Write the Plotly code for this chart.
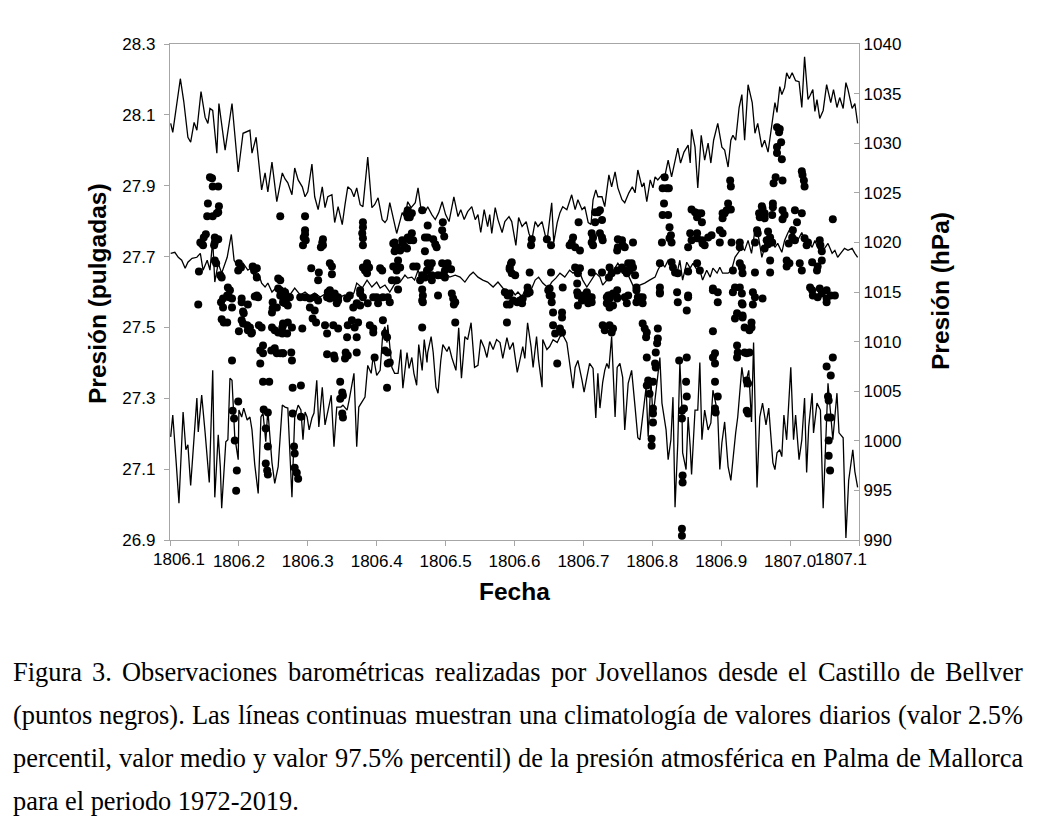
import plotly.graph_objects as go

# Climatología diaria de Palma de Mallorca 1972-2019 (hPa)
# percentil 97.5
fecha_p975 = [
    1806.101, 1806.104, 1806.115, 1806.120, 1806.126, 1806.130, 1806.135, 1806.139, 1806.145, 1806.151,
    1806.155, 1806.158, 1806.162, 1806.168, 1806.171, 1806.180, 1806.190, 1806.199, 1806.206, 1806.216,
    1806.219, 1806.225, 1806.233, 1806.238, 1806.242, 1806.248, 1806.255, 1806.263, 1806.267,
    1806.271, 1806.277, 1806.281, 1806.286, 1806.292, 1806.296, 1806.300, 1806.306, 1806.310, 1806.315,
    1806.321, 1806.325, 1806.329, 1806.335, 1806.339, 1806.344, 1806.350, 1806.354, 1806.358, 1806.363,
    1806.367, 1806.371, 1806.376, 1806.380, 1806.387, 1806.393, 1806.397, 1806.402, 1806.408, 1806.412,
    1806.415, 1806.419, 1806.424, 1806.429,
    1806.437, 1806.441, 1806.445, 1806.450, 1806.456, 1806.460, 1806.464, 1806.470, 1806.474, 1806.480,
    1806.485, 1806.490, 1806.495, 1806.500, 1806.505, 1806.512, 1806.518, 1806.522, 1806.527, 1806.532,
    1806.538, 1806.543, 1806.547, 1806.551, 1806.556, 1806.561, 1806.564, 1806.567, 1806.572, 1806.576,
    1806.582, 1806.586, 1806.592, 1806.596,
    1806.602, 1806.606, 1806.611, 1806.617, 1806.621, 1806.625, 1806.630, 1806.634, 1806.640, 1806.643,
    1806.647, 1806.654, 1806.657, 1806.662, 1806.666, 1806.670, 1806.676, 1806.683, 1806.688, 1806.692,
    1806.698, 1806.702, 1806.707, 1806.711, 1806.714, 1806.718, 1806.721, 1806.727, 1806.731, 1806.737,
    1806.741, 1806.746, 1806.750, 1806.756, 1806.760, 1806.766,
    1806.771, 1806.775, 1806.779, 1806.785, 1806.788, 1806.792, 1806.797, 1806.801, 1806.804, 1806.808,
    1806.814, 1806.818, 1806.823, 1806.828, 1806.833, 1806.837, 1806.841, 1806.846, 1806.852, 1806.855,
    1806.857, 1806.862, 1806.866, 1806.871, 1806.876, 1806.881, 1806.885, 1806.889, 1806.895, 1806.901,
    1806.905, 1806.910, 1806.914, 1806.917, 1806.921, 1806.926, 1806.930, 1806.934, 1806.939, 1806.945,
    1806.949, 1806.953, 1806.959, 1806.963, 1806.968, 1806.974, 1806.978, 1806.981, 1806.985, 1806.988,
    1806.992, 1806.995, 1806.999, 1807.003, 1807.008, 1807.013, 1807.017, 1807.021, 1807.026, 1807.029,
    1807.033, 1807.036, 1807.039, 1807.043, 1807.048, 1807.053, 1807.059, 1807.063, 1807.068, 1807.072,
    1807.077, 1807.081, 1807.084, 1807.090, 1807.094, 1807.098,
]
presion_p975 = [
    1032.0, 1031.1, 1036.5, 1034.2, 1030.6, 1030.1, 1032.1, 1031.3, 1035.2, 1032.6,
    1032.0, 1033.5, 1033.3, 1029.0, 1034.0, 1029.3, 1034.0, 1027.1, 1031.0, 1031.3,
    1029.0, 1030.6, 1025.3, 1027.0, 1025.1, 1028.1, 1024.1, 1027.0, 1026.4,
    1026.0, 1024.8, 1027.5, 1026.3, 1025.6, 1024.6, 1025.1, 1027.9, 1024.6, 1023.3,
    1025.6, 1023.5, 1024.6, 1024.8, 1022.0, 1023.6, 1021.8, 1023.8, 1025.6, 1025.3,
    1024.6, 1025.5, 1023.8, 1023.6, 1028.6, 1023.5, 1023.8, 1024.5, 1022.3, 1022.0,
    1022.3, 1024.0, 1022.3, 1020.9,
    1023.0, 1022.5, 1024.1, 1023.5, 1024.0, 1025.5, 1023.5, 1023.0, 1023.6, 1022.8,
    1022.3, 1023.0, 1024.1, 1022.8, 1022.1, 1024.6, 1022.6, 1023.3, 1022.3, 1023.1,
    1023.6, 1022.3, 1022.8, 1021.0, 1023.3, 1021.6, 1022.8, 1020.9, 1023.5, 1022.3,
    1021.0, 1022.1, 1022.6, 1022.1,
    1019.7, 1022.5, 1021.6, 1022.1, 1020.9, 1020.2, 1022.1, 1021.6, 1022.1, 1021.3,
    1020.0, 1024.0, 1020.0, 1022.0, 1023.0, 1023.6, 1023.3, 1024.8, 1023.3, 1024.3,
    1023.3, 1023.6, 1022.0, 1021.8, 1024.3, 1025.3, 1024.6, 1024.6, 1023.6, 1026.8,
    1025.6, 1027.1, 1025.5, 1024.3, 1024.0, 1025.0,
    1025.6, 1025.0, 1027.3, 1025.6, 1026.0, 1024.1, 1026.3, 1025.5, 1026.6, 1026.3,
    1026.8, 1026.6, 1028.3, 1026.6, 1028.3, 1029.5, 1028.0, 1029.1, 1029.8, 1028.0,
    1031.4, 1029.6, 1025.5, 1030.8, 1028.3, 1030.0, 1028.0, 1030.3, 1032.0, 1029.6,
    1029.3, 1027.6, 1030.3, 1030.8, 1030.3, 1033.6, 1034.9, 1030.3, 1035.9, 1034.1,
    1031.0, 1032.0, 1029.6, 1030.3, 1029.1, 1032.3, 1034.1, 1033.1, 1035.7, 1034.9,
    1035.6, 1037.1, 1036.5, 1037.1, 1036.3, 1036.2, 1033.6, 1038.7, 1034.4, 1034.8,
    1035.4, 1033.2, 1034.4, 1032.5, 1033.3, 1035.9, 1034.1, 1035.4, 1033.6, 1034.6,
    1033.5, 1036.1, 1035.4, 1033.5, 1034.0, 1032.0,
]

# valor medio
fecha_media = [
    1806.101, 1806.107, 1806.112, 1806.117, 1806.122, 1806.126, 1806.132, 1806.139, 1806.144, 1806.148,
    1806.154, 1806.158, 1806.162, 1806.165, 1806.170, 1806.175, 1806.183, 1806.189, 1806.193, 1806.199,
    1806.206, 1806.213, 1806.219, 1806.223, 1806.228, 1806.233, 1806.238, 1806.242, 1806.248, 1806.255,
    1806.260, 1806.267, 1806.274, 1806.281, 1806.289, 1806.296, 1806.303, 1806.310, 1806.318, 1806.325,
    1806.332, 1806.339, 1806.347, 1806.354, 1806.361, 1806.367, 1806.371, 1806.379, 1806.386, 1806.393,
    1806.400, 1806.405, 1806.412, 1806.419, 1806.426, 1806.434, 1806.441, 1806.445, 1806.451, 1806.455,
    1806.460, 1806.466, 1806.470, 1806.474, 1806.482, 1806.489, 1806.493, 1806.499, 1806.506, 1806.514,
    1806.521, 1806.528, 1806.535, 1806.540, 1806.547, 1806.554, 1806.561, 1806.569, 1806.576, 1806.583,
    1806.590, 1806.596, 1806.601, 1806.605, 1806.611, 1806.618, 1806.624, 1806.630, 1806.635, 1806.641,
    1806.649, 1806.654, 1806.660, 1806.666, 1806.673, 1806.680, 1806.685, 1806.691, 1806.695, 1806.699,
    1806.705, 1806.711, 1806.718, 1806.724, 1806.728, 1806.734, 1806.738, 1806.744, 1806.750, 1806.757,
    1806.763, 1806.767, 1806.775, 1806.782, 1806.789, 1806.796, 1806.804, 1806.808, 1806.814, 1806.818,
    1806.823, 1806.828, 1806.833, 1806.836, 1806.840, 1806.844, 1806.850, 1806.855, 1806.859, 1806.865,
    1806.869, 1806.873, 1806.879, 1806.884, 1806.888, 1806.894, 1806.898, 1806.902, 1806.910, 1806.915,
    1806.920, 1806.924, 1806.930, 1806.934, 1806.939, 1806.944, 1806.949, 1806.953, 1806.959, 1806.963,
    1806.968, 1806.974, 1806.978, 1806.982, 1806.988, 1806.992, 1806.997, 1807.002, 1807.007, 1807.011,
    1807.017, 1807.021, 1807.026, 1807.032, 1807.036, 1807.040, 1807.046, 1807.050, 1807.055, 1807.061,
    1807.065, 1807.069, 1807.075, 1807.079, 1807.084, 1807.090, 1807.094, 1807.098,
]
presion_media = [
    1018.9, 1019.0, 1018.5, 1018.2, 1017.4, 1018.0, 1018.4, 1018.5, 1018.9, 1017.2,
    1018.2, 1017.2, 1020.2, 1016.0, 1017.9, 1016.9, 1018.5, 1020.8, 1018.2, 1017.5,
    1017.9, 1017.2, 1017.5, 1016.2, 1016.9, 1015.9, 1015.5, 1015.9, 1015.0, 1015.5,
    1015.0, 1015.4, 1014.7, 1015.4, 1014.7, 1015.0, 1014.6, 1014.9, 1014.5, 1014.8,
    1014.6, 1014.9, 1014.5, 1014.7, 1014.5, 1014.9, 1015.9, 1015.4, 1016.2, 1015.5,
    1016.0, 1015.4, 1015.7, 1015.0, 1015.8, 1016.0, 1016.7, 1016.4, 1016.5, 1016.2,
    1017.2, 1016.2, 1016.5, 1016.9, 1016.5, 1016.7, 1016.4, 1017.0, 1016.5, 1016.7,
    1016.5, 1016.0, 1016.7, 1017.0, 1016.5, 1016.2, 1016.0, 1015.5, 1016.0, 1015.4,
    1015.0, 1015.2, 1014.7, 1015.0, 1014.5, 1015.7, 1015.2, 1016.2, 1016.5, 1015.9,
    1015.4, 1016.0, 1016.4, 1016.9, 1016.5, 1017.2, 1016.9, 1017.2, 1016.9, 1016.2,
    1015.5, 1016.2, 1016.9, 1016.5, 1015.7, 1016.2, 1016.9, 1017.2, 1017.9, 1017.2,
    1017.0, 1016.4, 1015.2, 1015.7, 1015.9, 1016.2, 1016.5, 1017.2, 1018.0, 1017.5,
    1018.2, 1018.0, 1017.5, 1016.9, 1018.2, 1016.2, 1018.0, 1017.4, 1017.9, 1017.2,
    1017.2, 1016.2, 1017.2, 1016.5, 1017.4, 1016.9, 1017.5, 1016.9, 1016.9, 1017.2,
    1018.5, 1018.9, 1019.5, 1019.2, 1020.2, 1018.9, 1021.2, 1021.0, 1018.5, 1019.5,
    1021.0, 1020.2, 1019.5, 1019.9, 1019.0, 1020.2, 1021.0, 1021.6, 1020.5, 1020.2,
    1021.0, 1020.2, 1020.2, 1019.5, 1020.2, 1019.5, 1018.9, 1019.4, 1019.9, 1018.9,
    1019.2, 1018.5, 1019.0, 1019.4, 1019.2, 1019.4, 1018.9, 1018.5,
]

# percentil 2.5
fecha_p025 = [
    1806.101, 1806.104, 1806.109, 1806.113, 1806.119, 1806.123, 1806.126, 1806.130, 1806.135, 1806.139,
    1806.141, 1806.146, 1806.151, 1806.157, 1806.162, 1806.165, 1806.170, 1806.173, 1806.175, 1806.181,
    1806.184, 1806.187, 1806.190, 1806.194, 1806.199, 1806.200, 1806.204, 1806.207, 1806.212, 1806.216,
    1806.219, 1806.223, 1806.228, 1806.232, 1806.235, 1806.239, 1806.242, 1806.248, 1806.252, 1806.257,
    1806.263, 1806.267, 1806.271, 1806.277, 1806.281, 1806.286, 1806.290, 1806.293, 1806.296, 1806.299,
    1806.302, 1806.306, 1806.309, 1806.313, 1806.316, 1806.321, 1806.325, 1806.329, 1806.334, 1806.338,
    1806.342, 1806.348, 1806.351, 1806.357, 1806.360, 1806.367, 1806.371, 1806.374, 1806.380, 1806.383,
    1806.387, 1806.392, 1806.395, 1806.400, 1806.405, 1806.409, 1806.412, 1806.415, 1806.416, 1806.422,
    1806.426, 1806.431, 1806.435, 1806.438, 1806.444, 1806.447, 1806.451, 1806.454, 1806.458, 1806.461,
    1806.466, 1806.469, 1806.473, 1806.474, 1806.479, 1806.482, 1806.486, 1806.489, 1806.493, 1806.496,
    1806.502, 1806.505, 1806.509, 1806.515, 1806.519, 1806.523, 1806.528, 1806.532, 1806.537, 1806.542,
    1806.547, 1806.551, 1806.556, 1806.560, 1806.564, 1806.569, 1806.574, 1806.579, 1806.583, 1806.589,
    1806.593, 1806.598, 1806.604, 1806.608, 1806.612, 1806.615, 1806.619, 1806.624, 1806.627, 1806.632,
    1806.635, 1806.640, 1806.641, 1806.647, 1806.651, 1806.656, 1806.662, 1806.666, 1806.670, 1806.676,
    1806.680, 1806.685, 1806.688, 1806.692, 1806.698, 1806.701, 1806.705, 1806.709, 1806.714, 1806.718,
    1806.721, 1806.724, 1806.728, 1806.731, 1806.734, 1806.737, 1806.741, 1806.746, 1806.749, 1806.753,
    1806.757, 1806.760, 1806.765, 1806.770, 1806.775, 1806.779, 1806.782, 1806.786, 1806.791, 1806.794,
    1806.798, 1806.801, 1806.807, 1806.811, 1806.814, 1806.820, 1806.823, 1806.827, 1806.830, 1806.833,
    1806.837, 1806.840, 1806.843, 1806.844, 1806.849, 1806.852, 1806.855, 1806.857, 1806.862, 1806.866,
    1806.869, 1806.872, 1806.876, 1806.881, 1806.885, 1806.888, 1806.892, 1806.895, 1806.898, 1806.901,
    1806.905, 1806.910, 1806.914, 1806.917, 1806.921, 1806.924, 1806.930, 1806.934, 1806.940, 1806.944,
    1806.947, 1806.952, 1806.956, 1806.960, 1806.965, 1806.969, 1806.975, 1806.978, 1806.981, 1806.985,
    1806.988, 1806.991, 1806.995, 1807.001, 1807.005, 1807.008, 1807.013, 1807.017, 1807.021, 1807.024,
    1807.027, 1807.032, 1807.034, 1807.039, 1807.044, 1807.048, 1807.052, 1807.055, 1807.059, 1807.062,
    1807.068, 1807.071, 1807.077, 1807.081, 1807.085, 1807.091, 1807.094, 1807.098,
]
presion_p025 = [
    1000.4, 1002.6, 997.8, 993.7, 1002.9, 999.1, 999.6, 995.5, 1000.4, 1004.3,
    1000.9, 1004.6, 1000.8, 995.8, 1007.1, 994.3, 1000.6, 997.4, 993.2, 999.9,
    1000.1, 1006.3, 1006.1, 1000.4, 998.1, 1003.1, 1002.4, 1003.3, 1002.1, 1002.4,
    1001.1, 997.6, 994.7, 1002.4, 1002.8, 999.9, 1003.1, 997.8, 995.7, 997.4,
    1003.6, 1003.4, 1003.3, 994.3, 1002.4, 1003.6, 1003.1, 1000.1, 1002.9, 1002.4,
    1001.1, 1002.3, 1002.8, 1006.1, 1001.4, 1005.4, 1001.6, 1003.1, 1004.6, 999.4,
    1003.4, 1003.4, 1003.6, 1003.1, 1004.1, 1006.8, 999.4, 1003.4, 1004.1, 1004.4,
    1007.6, 1006.8, 1008.6, 1006.6, 1007.1, 1011.0, 1011.5, 1009.9, 1011.7, 1007.4,
    1006.8, 1006.8, 1009.2, 1005.3, 1008.9, 1007.3, 1008.4, 1006.8, 1005.6, 1009.7,
    1007.1, 1010.2, 1007.9, 1008.9, 1010.5, 1008.9, 1005.4, 1004.8, 1008.1, 1009.7,
    1009.0, 1009.5, 1008.4, 1007.1, 1011.4, 1006.3, 1010.5, 1010.2, 1011.9, 1007.4,
    1007.6, 1010.2, 1009.4, 1008.4, 1010.0, 1009.2, 1010.2, 1009.9, 1008.3, 1010.4,
    1009.2, 1009.9, 1006.9, 1008.1, 1009.5, 1008.3, 1011.9, 1009.5, 1007.4, 1010.5,
    1008.1, 1005.4, 1010.2, 1009.2, 1009.5, 1010.2, 1009.9, 1010.5, 1010.7, 1009.9,
    1007.8, 1005.3, 1007.4, 1008.1, 1006.1, 1004.9, 1006.4, 1007.8, 1007.3, 1002.3,
    1006.8, 1003.3, 1005.9, 1007.1, 1007.8, 1007.3, 1010.5, 1002.4, 1007.4, 1007.8,
    1006.4, 1001.1, 1005.8, 1007.1, 1003.4, 1000.3, 1000.1, 1002.4, 1005.4, 1000.4,
    1006.1, 1002.4, 1005.8, 1008.4, 1003.8, 1001.1, 998.1, 1000.1, 1004.4, 993.3,
    999.8, 1007.9, 1003.3, 998.8, 997.1, 1002.4, 999.4, 996.6, 1003.1, 1003.1,
    1007.9, 1000.1, 1003.1, 1001.1, 1001.8, 1005.1, 1003.8, 1002.6, 997.1, 999.8,
    1001.9, 997.4, 996.0, 998.4, 1000.8, 1002.4, 1007.4, 1005.4, 1007.1, 1001.9,
    1009.9, 995.3, 1002.4, 1003.8, 1001.6, 1003.3, 997.8, 997.1, 998.8, 999.1,
    998.4, 1002.6, 1000.1, 1007.4, 1000.1, 1002.6, 998.1, 1000.1, 1004.3, 996.8,
    1001.4, 1004.8, 1000.8, 1003.8, 1003.1, 993.2, 1000.8, 1005.8, 1002.6, 1000.1,
    1004.8, 1000.8, 1000.3, 990.2, 996.0, 999.1, 996.9, 995.3,
]

# Observaciones barométricas de Jovellanos en Bellver (pulgadas)
obs_fecha = [
    1806.158, 1806.161, 1806.162, 1806.170, 1806.155, 1806.171, 1806.154, 1806.162, 1806.168, 1806.170,
    1806.260, 1806.152, 1806.149, 1806.144, 1806.146, 1806.148, 1806.165, 1806.170, 1806.165, 1806.164,
    1806.165, 1806.167, 1806.142, 1806.173, 1806.175, 1806.200, 1806.203, 1806.199, 1806.220, 1806.226,
    1806.222, 1806.226, 1806.257, 1806.260, 1806.257, 1806.260, 1806.184, 1806.187, 1806.183, 1806.186,
    1806.190, 1806.223, 1806.228, 1806.204,
    1806.177, 1806.141, 1806.174, 1806.177, 1806.190, 1806.175, 1806.178, 1806.183, 1806.204, 1806.213,
    1806.206, 1806.207, 1806.204, 1806.206, 1806.200, 1806.212, 1806.216, 1806.213, 1806.219, 1806.218,
    1806.226, 1806.229, 1806.233, 1806.248, 1806.252, 1806.257, 1806.263, 1806.264, 1806.248, 1806.249,
    1806.255, 1806.260, 1806.264, 1806.249, 1806.235, 1806.231, 1806.235, 1806.231, 1806.247, 1806.252,
    1806.255, 1806.260, 1806.264, 1806.190, 1806.235, 1806.244, 1806.199, 1806.191, 1806.193, 1806.194,
    1806.236, 1806.242, 1806.239, 1806.242, 1806.239, 1806.241, 1806.242, 1806.197, 1806.196,
    1806.296, 1806.296, 1806.296, 1806.294, 1806.297, 1806.293, 1806.322, 1806.321, 1806.322, 1806.319,
    1806.380, 1806.380, 1806.379, 1806.380, 1806.380, 1806.305, 1806.316, 1806.315, 1806.332, 1806.335,
    1806.335, 1806.380, 1806.386, 1806.389, 1806.383, 1806.386, 1806.405, 1806.408, 1806.424, 1806.428,
    1806.426, 1806.431, 1806.424, 1806.429, 1806.422, 1806.429, 1806.267, 1806.329, 1806.339, 1806.344,
    1806.376, 1806.380,
    1806.264, 1806.270, 1806.274, 1806.267, 1806.271, 1806.289, 1806.296, 1806.303, 1806.310, 1806.315,
    1806.303, 1806.310, 1806.328, 1806.332, 1806.339, 1806.344, 1806.342, 1806.332, 1806.307, 1806.312,
    1806.366, 1806.371, 1806.376, 1806.387, 1806.395, 1806.400, 1806.402, 1806.409, 1806.416, 1806.419,
    1806.376, 1806.361, 1806.357, 1806.264, 1806.271, 1806.263, 1806.270, 1806.277, 1806.292, 1806.325,
    1806.337, 1806.344, 1806.328, 1806.358, 1806.364, 1806.373, 1806.368, 1806.357, 1806.371, 1806.390,
    1806.395, 1806.395, 1806.409, 1806.412, 1806.415, 1806.264, 1806.276, 1806.277, 1806.328, 1806.338,
    1806.339, 1806.355, 1806.358, 1806.354, 1806.371, 1806.347, 1806.350, 1806.347, 1806.351, 1806.350,
    1806.351, 1806.278, 1806.290, 1806.278, 1806.290, 1806.280, 1806.281, 1806.281, 1806.284, 1806.286,
    1806.412, 1806.416, 1806.419, 1806.416, 1806.415, 1806.397,
    1806.445, 1806.451, 1806.448, 1806.445, 1806.444, 1806.466, 1806.474, 1806.496, 1806.495, 1806.498,
    1806.426, 1806.429, 1806.434, 1806.437, 1806.438, 1806.441, 1806.444, 1806.445, 1806.451, 1806.448,
    1806.453, 1806.470, 1806.474, 1806.482, 1806.485, 1806.487, 1806.470, 1806.434, 1806.429, 1806.453,
    1806.458, 1806.474, 1806.480, 1806.477, 1806.473, 1806.495, 1806.503, 1806.503, 1806.508, 1806.499,
    1806.466, 1806.470, 1806.480, 1806.489, 1806.495, 1806.499, 1806.463, 1806.480, 1806.595, 1806.593,
    1806.596, 1806.431, 1806.466, 1806.467, 1806.489, 1806.509, 1806.511,
    1806.467, 1806.466, 1806.514, 1806.512, 1806.586, 1806.590, 1806.589, 1806.593, 1806.466, 1806.514,
    1806.589,
    1806.717, 1806.721, 1806.724, 1806.717, 1806.727, 1806.693, 1806.712, 1806.714, 1806.712, 1806.714,
    1806.724, 1806.727, 1806.728, 1806.685, 1806.683, 1806.680, 1806.688, 1806.695, 1806.625, 1806.624,
    1806.647, 1806.653, 1806.750, 1806.756, 1806.750, 1806.757, 1806.749, 1806.596, 1806.593, 1806.601,
    1806.622, 1806.653, 1806.688, 1806.695, 1806.692, 1806.712, 1806.727, 1806.738, 1806.741, 1806.737,
    1806.749, 1806.756, 1806.760, 1806.763, 1806.619, 1806.622, 1806.651, 1806.654, 1806.670, 1806.691,
    1806.691, 1806.698, 1806.702, 1806.712, 1806.736, 1806.738, 1806.749, 1806.749, 1806.765,
    1806.593, 1806.598, 1806.604, 1806.608, 1806.612, 1806.611, 1806.619, 1806.649, 1806.651, 1806.654,
    1806.656, 1806.669, 1806.669, 1806.656, 1806.659, 1806.666, 1806.669, 1806.662, 1806.692, 1806.698,
    1806.692, 1806.705, 1806.709, 1806.707, 1806.712, 1806.734, 1806.738, 1806.743, 1806.734, 1806.738,
    1806.743, 1806.749, 1806.728, 1806.731, 1806.738, 1806.743, 1806.741, 1806.760, 1806.763,
    1806.818, 1806.821, 1806.815, 1806.824, 1806.817, 1806.815, 1806.823, 1806.825, 1806.827, 1806.825,
    1806.828, 1806.814, 1806.913, 1806.914, 1806.910, 1806.908, 1806.914, 1806.902, 1806.905, 1806.902,
    1806.857, 1806.862, 1806.866, 1806.865, 1806.872, 1806.871, 1806.855, 1806.865, 1806.857, 1806.865,
    1806.872, 1806.873, 1806.876, 1806.881, 1806.886, 1806.852, 1806.898, 1806.902, 1806.898, 1806.915,
    1806.772, 1806.760, 1806.927, 1806.927, 1806.765, 1806.770, 1806.772, 1806.767, 1806.811, 1806.828,
    1806.830, 1806.833, 1806.837, 1806.852, 1806.865, 1806.869, 1806.917, 1806.927, 1806.930, 1806.931,
    1806.775, 1806.777, 1806.782, 1806.811, 1806.811, 1806.836, 1806.852, 1806.888, 1806.895, 1806.920,
    1806.777, 1806.779, 1806.782, 1806.786, 1806.786, 1806.777, 1806.811, 1806.837, 1806.852, 1806.850,
    1806.888, 1806.895, 1806.917, 1806.930, 1806.923, 1806.920, 1806.931, 1806.786, 1806.789, 1806.792,
    1806.791, 1806.808, 1806.808, 1806.807, 1806.805, 1806.792, 1806.804, 1806.805, 1806.794, 1806.792,
    1806.801, 1806.796, 1806.801, 1806.801, 1806.801, 1806.799, 1806.799, 1806.839, 1806.850, 1806.849,
    1806.850, 1806.846, 1806.843, 1806.843, 1806.844, 1806.844, 1806.843, 1806.843, 1806.888, 1806.891,
    1806.888, 1806.891, 1806.891, 1806.895, 1806.891, 1806.892, 1806.923, 1806.924, 1806.923,
    1806.981, 1806.985, 1806.984, 1806.987, 1806.981, 1806.981, 1806.988, 1807.017, 1807.018, 1807.020,
    1807.021, 1806.979, 1806.976, 1806.989, 1806.959, 1806.960, 1806.955, 1806.963, 1806.963, 1806.956,
    1806.975, 1806.975, 1806.974, 1806.989, 1806.992, 1806.989, 1807.007, 1807.017, 1807.010, 1807.062,
    1806.952, 1806.953, 1806.949, 1806.968, 1806.971, 1806.966, 1806.974, 1806.968, 1807.004, 1807.003,
    1807.007, 1806.998, 1807.021, 1807.026, 1807.024, 1807.043, 1807.044, 1807.046, 1806.963, 1806.971,
    1806.995, 1806.999, 1806.995, 1807.014, 1807.017, 1807.032, 1807.040, 1807.039, 1807.046, 1806.949,
    1806.971, 1807.029, 1807.032, 1807.033, 1807.040, 1807.043, 1807.046, 1807.053, 1807.053, 1807.059,
    1806.946, 1806.949, 1806.960, 1806.927, 1806.930,
    1806.931, 1806.946, 1807.053, 1807.065, 1806.931, 1806.934, 1806.944, 1806.944, 1806.941, 1806.934,
    1806.937, 1806.941, 1806.937, 1806.939, 1806.937, 1806.939, 1807.062, 1807.053, 1807.059, 1807.055,
    1807.056, 1807.055, 1807.059, 1807.056, 1807.056, 1807.058,
]
obs_pulgadas = [
    27.924, 27.921, 27.898, 27.898, 27.850, 27.842, 27.814, 27.814, 27.822, 27.825,
    27.814, 27.763, 27.754, 27.740, 27.737, 27.732, 27.754, 27.749, 27.740, 27.732,
    27.689, 27.681, 27.658, 27.647, 27.641, 27.681, 27.669, 27.661, 27.672, 27.667,
    27.661, 27.641, 27.638, 27.633, 27.610, 27.605, 27.613, 27.605, 27.590, 27.585,
    27.582, 27.587, 27.585, 27.582,
    27.582, 27.565, 27.571, 27.556, 27.556, 27.523, 27.514, 27.514, 27.571, 27.565,
    27.545, 27.540, 27.520, 27.511, 27.489, 27.506, 27.500, 27.492, 27.486, 27.483,
    27.590, 27.506, 27.500, 27.500, 27.492, 27.486, 27.483, 27.506, 27.542, 27.554,
    27.556, 27.590, 27.571, 27.571, 27.449, 27.435, 27.427, 27.398, 27.435, 27.441,
    27.427, 27.427, 27.427, 27.407, 27.347, 27.347, 27.291, 27.265, 27.243, 27.181,
    27.268, 27.260, 27.215, 27.164, 27.116, 27.096, 27.085, 27.096, 27.039,
    27.814, 27.774, 27.763, 27.754, 27.746, 27.732, 27.749, 27.740, 27.732, 27.726,
    27.797, 27.783, 27.766, 27.752, 27.732, 27.667, 27.655, 27.633, 27.681, 27.672,
    27.650, 27.669, 27.681, 27.669, 27.661, 27.653, 27.667, 27.661, 27.737, 27.726,
    27.715, 27.689, 27.672, 27.669, 27.633, 27.633, 27.599, 27.599, 27.596, 27.585,
    27.596, 27.585,
    27.585, 27.582, 27.585, 27.568, 27.562, 27.585, 27.585, 27.582, 27.585, 27.576,
    27.556, 27.548, 27.585, 27.582, 27.585, 27.576, 27.568, 27.605, 27.525, 27.514,
    27.556, 27.568, 27.562, 27.568, 27.585, 27.585, 27.568, 27.585, 27.585, 27.571,
    27.605, 27.590, 27.582, 27.511, 27.514, 27.500, 27.483, 27.500, 27.497, 27.506,
    27.506, 27.497, 27.483, 27.506, 27.520, 27.514, 27.500, 27.472, 27.472, 27.506,
    27.497, 27.486, 27.520, 27.483, 27.472, 27.427, 27.429, 27.407, 27.424, 27.421,
    27.412, 27.429, 27.421, 27.412, 27.429, 27.347, 27.316, 27.299, 27.308, 27.257,
    27.246, 27.330, 27.336, 27.257, 27.248, 27.164, 27.144, 27.104, 27.090, 27.073,
    27.435, 27.429, 27.401, 27.398, 27.330, 27.415,
    27.831, 27.822, 27.811, 27.811, 27.822, 27.831, 27.788, 27.797, 27.774, 27.757,
    27.740, 27.726, 27.717, 27.746, 27.737, 27.726, 27.723, 27.754, 27.766, 27.746,
    27.746, 27.754, 27.754, 27.749, 27.735, 27.726, 27.715, 27.669, 27.661, 27.672,
    27.672, 27.681, 27.681, 27.669, 27.661, 27.681, 27.681, 27.669, 27.664, 27.661,
    27.647, 27.641, 27.647, 27.647, 27.647, 27.641, 27.633, 27.633, 27.681, 27.664,
    27.653, 27.607, 27.607, 27.590, 27.590, 27.596, 27.582,
    27.571, 27.576, 27.571, 27.565, 27.599, 27.590, 27.565, 27.565, 27.500, 27.514,
    27.514,
    27.825, 27.825, 27.831, 27.797, 27.803, 27.797, 27.766, 27.754, 27.740, 27.732,
    27.766, 27.754, 27.746, 27.754, 27.740, 27.732, 27.726, 27.717, 27.749, 27.732,
    27.749, 27.732, 27.749, 27.746, 27.726, 27.732, 27.717, 27.684, 27.669, 27.647,
    27.655, 27.655, 27.669, 27.667, 27.653, 27.655, 27.655, 27.669, 27.653, 27.641,
    27.661, 27.669, 27.661, 27.653, 27.613, 27.599, 27.610, 27.590, 27.613, 27.624,
    27.599, 27.590, 27.582, 27.585, 27.590, 27.582, 27.605, 27.585, 27.590,
    27.596, 27.576, 27.571, 27.576, 27.582, 27.568, 27.596, 27.605, 27.590, 27.571,
    27.542, 27.542, 27.528, 27.506, 27.483, 27.497, 27.486, 27.398, 27.590, 27.576,
    27.562, 27.599, 27.585, 27.568, 27.571, 27.585, 27.590, 27.596, 27.568, 27.556,
    27.562, 27.582, 27.506, 27.492, 27.506, 27.497, 27.486, 27.585, 27.568,
    27.924, 27.893, 27.893, 27.893, 27.850, 27.817, 27.817, 27.783, 27.760, 27.752,
    27.740, 27.740, 27.915, 27.898, 27.850, 27.831, 27.833, 27.822, 27.822, 27.808,
    27.833, 27.825, 27.822, 27.811, 27.797, 27.822, 27.766, 27.766, 27.746, 27.752,
    27.746, 27.737, 27.732, 27.754, 27.760, 27.726, 27.774, 27.766, 27.740, 27.740,
    27.740, 27.726, 27.740, 27.726, 27.681, 27.681, 27.669, 27.661, 27.681, 27.684,
    27.669, 27.655, 27.653, 27.658, 27.681, 27.661, 27.661, 27.681, 27.669, 27.653,
    27.647, 27.613, 27.585, 27.613, 27.596, 27.599, 27.585, 27.610, 27.599, 27.613,
    27.605, 27.585, 27.582, 27.585, 27.568, 27.571, 27.599, 27.571, 27.590, 27.548,
    27.605, 27.571, 27.599, 27.568, 27.540, 27.525, 27.528, 27.511, 27.497, 27.486,
    27.472, 27.497, 27.469, 27.455, 27.429, 27.415, 27.398, 27.387, 27.350, 27.336,
    27.347, 27.313, 27.271, 27.257, 27.232, 27.186, 27.166, 27.407, 27.415, 27.347,
    27.305, 27.271, 27.265, 27.243, 27.082, 27.062, 26.932, 26.912, 27.489, 27.427,
    27.415, 27.398, 27.347, 27.305, 27.271, 27.260, 27.449, 27.429, 27.415,
    28.065, 28.060, 28.051, 28.023, 28.009, 27.992, 27.975, 27.941, 27.930, 27.915,
    27.898, 27.924, 27.907, 27.915, 27.842, 27.836, 27.822, 27.822, 27.808, 27.811,
    27.850, 27.839, 27.817, 27.831, 27.817, 27.805, 27.831, 27.822, 27.797, 27.805,
    27.774, 27.766, 27.740, 27.771, 27.754, 27.746, 27.740, 27.735, 27.774, 27.754,
    27.746, 27.737, 27.752, 27.740, 27.732, 27.746, 27.732, 27.715, 27.723, 27.689,
    27.689, 27.681, 27.672, 27.681, 27.661, 27.684, 27.672, 27.661, 27.689, 27.655,
    27.655, 27.613, 27.605, 27.590, 27.585, 27.610, 27.596, 27.605, 27.582, 27.590,
    27.599, 27.585, 27.582, 27.613, 27.596,
    27.565, 27.565, 27.571, 27.590, 27.534, 27.500, 27.514, 27.500, 27.492, 27.429,
    27.427, 27.429, 27.350, 27.342, 27.265, 27.257, 27.415, 27.390, 27.364, 27.305,
    27.294, 27.246, 27.246, 27.181, 27.138, 27.096,
]

n_obs = min(len(obs_fecha), len(obs_pulgadas))

fechas_ticks = [1806.1, 1806.2, 1806.3, 1806.4, 1806.5, 1806.6, 1806.7, 1806.8, 1806.9, 1807.0, 1807.1]
pulgadas_ticks = [26.9, 27.1, 27.3, 27.5, 27.7, 27.9, 28.1, 28.3]
hpa_ticks = [990, 995, 1000, 1005, 1010, 1015, 1020, 1025, 1030, 1035, 1040]

pie = [
    "Figura 3. Observaciones barométricas realizadas por Jovellanos desde el Castillo de Bellver",
    "(puntos negros). Las líneas continuas muestran una climatología de valores diarios (valor 2.5%",
    "percentil, valor medio y valor 97.5% percentil) de la presión atmosférica en Palma de Mallorca",
    "para el periodo 1972-2019.",
]

# anchos de Times (Liberation Serif) en milésimas de em, para justificar el pie
ANCHOS = {
    "a": 444, "b": 500, "c": 444, "d": 500, "e": 444, "f": 333, "g": 500, "h": 500,
    "i": 278, "j": 278, "k": 500, "l": 278, "m": 778, "n": 500, "o": 500, "p": 500,
    "q": 500, "r": 333, "s": 389, "t": 278, "u": 500, "v": 500, "w": 722, "x": 500,
    "y": 500, "z": 444, "á": 444, "é": 444, "í": 278, "ó": 500, "ú": 500,
    "B": 667, "C": 667, "F": 556, "J": 389, "L": 611, "M": 889, "O": 722, "P": 556,
    ".": 250, ",": 250, "(": 333, ")": 333, "%": 833, "-": 333,
}


def ancho(palabra, size):
    return sum(ANCHOS.get(c, 500) for c in palabra) * size / 1000.0


fig = go.Figure()

for fx, py in [(fecha_p975, presion_p975), (fecha_media, presion_media), (fecha_p025, presion_p025)]:
    fig.add_trace(go.Scatter(
        x=fx, y=py, yaxis="y", mode="lines",
        line=dict(color="black", width=1.3),
        showlegend=False, hoverinfo="skip",
    ))

fig.add_trace(go.Scatter(
    x=obs_fecha[:n_obs], y=obs_pulgadas[:n_obs], yaxis="y2", mode="markers",
    marker=dict(color="black", size=8, line=dict(width=0)),
    showlegend=False,
))

gris = "#a6a6a6"
fuente_ticks = dict(family="Liberation Sans", size=17, color="black")
comun = dict(showline=True, linecolor=gris, linewidth=1.3, tickcolor=gris,
             ticklen=5, showgrid=False, zeroline=False, tickfont=fuente_ticks)

etiquetas_x = [f"{v:.1f}" for v in fechas_ticks]
etiquetas_x_eje = [""] + etiquetas_x[1:-1] + [""]

# la página tiene un margen de 8 px: área de trazado en x 170-859, y 44-540
fig.update_layout(
    width=1040, height=839, autosize=False,
    margin=dict(l=162, r=189, t=36, b=307),
    paper_bgcolor="white", plot_bgcolor="white",
    xaxis=dict(range=[1806.1, 1807.1], tickvals=fechas_ticks,
               ticktext=etiquetas_x_eje, mirror=True,
               ticks="outside", **comun),
    yaxis=dict(range=[990, 1040], tickvals=hpa_ticks, side="right",
               ticks="inside", ticklabelstandoff=0, **comun),
    yaxis2=dict(range=[26.9, 28.3], tickvals=pulgadas_ticks,
                ticktext=[f"{v:.1f}" for v in pulgadas_ticks],
                overlaying="y", side="left", ticks="outside",
                ticklabelstandoff=5, **comun),
    showlegend=False,
)


def px_x(p):
    return (p - 170) / 689


def px_y(p):
    return (540 - p) / 496


# etiquetas extremas del eje x, desplazadas hacia dentro como en el original
for texto, xc in [(etiquetas_x[0], 179), (etiquetas_x[-1], 841)]:
    fig.add_annotation(text=texto, xref="paper", yref="paper", x=px_x(xc), y=px_y(559),
                       xanchor="center", yanchor="middle", showarrow=False,
                       font=fuente_ticks)

titulo = dict(family="Liberation Sans", size=24.5, color="black")
fig.add_annotation(text="<b>Presión (pulgadas)</b>", xref="paper", yref="paper",
                   x=px_x(97), y=px_y(294), xanchor="center", yanchor="middle",
                   textangle=-90, showarrow=False, font=titulo)
fig.add_annotation(text="<b>Presión (hPa)</b>", xref="paper", yref="paper",
                   x=px_x(940), y=px_y(291), xanchor="center", yanchor="middle",
                   textangle=-90, showarrow=False, font=titulo)
fig.add_annotation(text="<b>Fecha</b>", xref="paper", yref="paper",
                   x=px_x(514), y=px_y(591), xanchor="center", yanchor="middle",
                   showarrow=False, font=titulo)

# pie de figura justificado entre x = 12 y x = 1022
tam_pie = 26.4
fuente_pie = dict(family="Liberation Serif", size=tam_pie, color="black")
izq, der = 12, 1022
for i, linea in enumerate(pie):
    yc = px_y(672 + 43 * i)
    palabras = linea.split(" ")
    if i == len(pie) - 1:
        fig.add_annotation(text=linea, xref="paper", yref="paper", x=px_x(izq), y=yc,
                           xanchor="left", yanchor="middle", showarrow=False,
                           borderpad=0, font=fuente_pie)
        continue
    anchos = [ancho(p, tam_pie) for p in palabras]
    hueco = (der - izq - sum(anchos)) / (len(palabras) - 1)
    x = izq
    for p, w in zip(palabras, anchos):
        fig.add_annotation(text=p, xref="paper", yref="paper", x=px_x(x), y=yc,
                           xanchor="left", yanchor="middle", showarrow=False,
                           borderpad=0, font=fuente_pie)
        x += w + hueco

fig.write_html("out.html")
